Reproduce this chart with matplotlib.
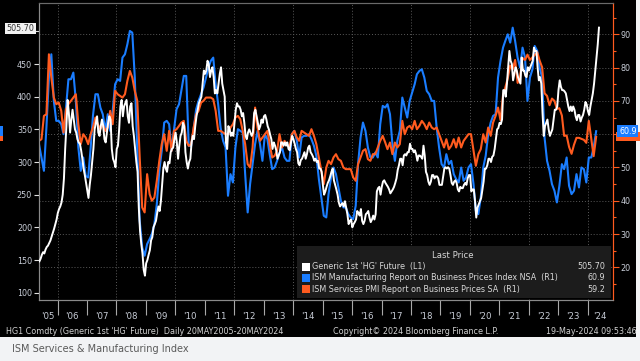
import matplotlib
matplotlib.use('Agg')
import matplotlib.pyplot as plt
import matplotlib.dates as mdates
from matplotlib.patches import Rectangle
from matplotlib.ticker import FixedLocator, FixedFormatter, MultipleLocator
import pandas as pd
import numpy as np

# ---------------- data ----------------
copper_start = '2005-05-20'
copper_end = '2024-05-20'
c2005 = [148, 152, 158, 162, 160, 166, 170, 172, 176, 180, 186, 192, 198, 205, 212]
c2006 = [222, 228, 232, 238, 250, 275, 320, 355, 395, 375, 345, 365, 380, 365, 350, 345, 335, 330, 328, 318, 305, 290, 280, 268]
c2007 = [255, 245, 265, 280, 300, 320, 350, 360, 370, 345, 340, 355, 365, 355, 335, 330, 345, 360, 370, 365, 320, 305, 300, 292]
c2008 = [320, 325, 350, 385, 395, 370, 385, 390, 395, 370, 360, 385, 390, 355, 340, 320, 300, 285, 230, 195, 175, 160, 135, 126]
c2009 = [145, 150, 158, 165, 180, 185, 200, 205, 210, 222, 232, 225, 240, 265, 290, 300, 290, 285, 300, 298, 315, 320, 322, 335]
c2010 = [345, 330, 305, 325, 340, 345, 360, 355, 315, 300, 290, 300, 305, 330, 340, 335, 355, 370, 380, 390, 395, 400, 420, 440]
c2011 = [435, 440, 455, 450, 430, 440, 445, 430, 405, 410, 405, 420, 435, 445, 420, 410, 400, 330, 320, 355, 350, 340, 345, 340]
c2012 = [360, 380, 390, 385, 385, 380, 370, 375, 360, 340, 335, 345, 350, 345, 340, 345, 375, 380, 370, 360, 350, 355, 365, 360]
c2013 = [370, 372, 365, 355, 350, 342, 335, 320, 330, 325, 318, 305, 310, 315, 330, 330, 325, 330, 325, 330, 320, 318, 330, 340]
c2014 = [335, 328, 320, 315, 298, 295, 303, 305, 310, 315, 305, 312, 322, 325, 315, 312, 308, 302, 305, 300, 302, 290, 290, 285]
c2015 = [265, 250, 255, 262, 268, 272, 278, 285, 290, 272, 265, 258, 250, 238, 232, 235, 237, 232, 240, 230, 220, 205, 210, 212]
c2016 = [200, 205, 208, 212, 225, 222, 218, 228, 210, 205, 210, 220, 222, 225, 215, 208, 212, 218, 212, 220, 255, 260, 262, 250]
c2017 = [262, 270, 272, 268, 265, 262, 258, 252, 255, 258, 262, 268, 275, 288, 295, 305, 305, 295, 310, 312, 310, 315, 315, 328]
c2018 = [320, 320, 315, 318, 312, 302, 310, 310, 308, 305, 325, 310, 285, 280, 270, 265, 270, 280, 280, 275, 278, 278, 275, 265]
c2019 = [265, 265, 278, 290, 292, 290, 292, 290, 280, 268, 265, 270, 272, 268, 258, 255, 262, 260, 260, 265, 268, 265, 275, 280]
c2020 = [280, 255, 258, 258, 240, 215, 230, 235, 240, 245, 258, 270, 290, 290, 295, 305, 305, 300, 308, 310, 320, 335, 350, 352]
c2021 = [360, 358, 365, 410, 410, 400, 420, 445, 470, 455, 450, 425, 435, 445, 440, 430, 425, 420, 460, 440, 440, 432, 430, 445]
c2022 = [440, 445, 450, 455, 475, 470, 470, 445, 425, 430, 420, 375, 340, 355, 360, 365, 350, 340, 345, 350, 365, 380, 380, 385]
c2023 = [410, 425, 415, 410, 410, 408, 405, 395, 385, 378, 385, 378, 385, 380, 370, 364, 372, 372, 362, 368, 372, 380, 392, 388]
c2024 = [378, 372, 385, 395, 405, 420, 440, 460, 480, 505.7]

ism_start = '2005-05'
ism_end = '2024-04'
mfg_prices = [
    57, 53, 49, 62, 77, 84, 70, 64,
    64, 63, 60, 68, 76.5, 76.5, 78.5, 70, 56, 49, 53, 47.5,
    47, 56, 65.5, 72, 72, 68, 66, 61, 66, 61, 67, 75,
    76.5, 76, 83, 84, 87, 91, 90.5, 77, 55, 34, 26, 23.5,
    27, 28.5, 30, 33, 39, 49, 55, 63.5, 64, 63, 55, 61.5,
    67.5, 69, 73, 77.5, 77.5, 56.5, 56.5, 61.5, 67.5, 70, 72, 74,
    77, 80, 82, 83, 75, 69, 62, 58, 56, 41.5, 48, 45.5,
    56, 61.5, 61, 60.5, 48, 36.5, 45, 51, 57, 61, 57, 52,
    60, 58.5, 54, 49.5, 50, 52, 54.5, 56, 53, 52, 52, 60,
    61, 58, 53, 59, 59.5, 59.5, 60, 58.5, 56.5, 53.5, 46.5, 41,
    35.5, 35, 42, 47, 50, 48, 44, 40, 38, 38, 36, 35,
    34.5, 38.5, 51, 59, 63.5, 61, 56, 53, 53, 54.5, 53, 63,
    68.5, 68, 69, 66, 57, 52, 58, 61, 71, 68, 65, 70,
    72.5, 75, 78, 79, 79.5, 77, 73, 72, 70, 70, 62, 56,
    51, 50, 54, 51, 52, 48, 46.5, 45.5, 50, 46, 47, 50,
    51, 45, 37, 36, 41, 50, 53.5, 60, 63.5, 65.5, 66, 77,
    82, 86, 88, 90, 87.5, 92, 88, 83, 80, 86, 83, 70,
    77, 79.5, 86.5, 85, 80, 77, 59, 52, 49, 45, 43, 39.5,
    44.5, 51, 49.5, 53, 44.5, 42, 43, 48, 44, 50, 49.5, 45.5,
    53, 53, 56, 60.9]
svc_prices = [
    58, 58.5, 65.5, 66, 84, 77, 71, 69,
    69.5, 67, 60.5, 67.5, 69, 70, 71, 72, 63, 57, 60, 59,
    57, 60, 62, 65, 63, 61.5, 63, 61, 62, 67, 63, 73,
    72, 71.5, 71, 72, 76, 79, 77, 73, 70, 53, 38, 36.5,
    48, 42, 40, 41, 46, 52, 57, 60, 55, 61, 55, 61,
    61.5, 62.5, 63.5, 64, 58, 56.5, 57, 62, 66, 67, 69.5, 70,
    71, 71, 71, 70.5, 67, 61, 61, 60.5, 60, 60, 62, 63,
    65, 65.5, 64.5, 61, 57, 51, 50, 56, 68, 62, 58, 59,
    60, 61, 57, 53, 53.5, 55, 60, 56, 58, 57, 56, 60,
    61, 59, 58, 61, 60.5, 60, 59.5, 61.5, 59.5, 57, 53, 49,
    45, 50, 52, 51, 53, 54, 52.5, 52, 50, 49.5, 49.5, 49.5,
    47, 46, 51, 53, 55, 55.5, 52.5, 52, 54, 54, 56, 58,
    59.5, 57.5, 55.5, 57.5, 54, 57.5, 56, 57, 64, 60, 62, 62.5,
    61.5, 64, 61.5, 62.5, 64, 63, 61.5, 63.5, 62, 61.5, 62, 60,
    58, 56, 58.5, 55.5, 56.5, 58.5, 56, 59, 56, 58, 59, 60,
    60, 55, 50.5, 54, 55.5, 60, 57.5, 62, 59.5, 63.5, 65.5, 68,
    64.2, 71.8, 74, 76.8, 80.6, 79.5, 82.3, 75.4, 77.5, 82.9, 82.3, 83.9,
    82.3, 83.1, 83.8, 84.6, 82.1, 80.1, 72.3, 71.5, 68.7, 70.7, 70, 67.6,
    67.8, 65.6, 59.5, 59.6, 56.2, 54.1, 56.8, 58.9, 58.9, 58.6, 58.3, 57.4,
    64, 58.6, 53.4, 59.2]

year_labels = ["'05", "'06", "'07", "'08", "'09", "'10", "'11", "'12", "'13", "'14",
               "'15", "'16", "'17", "'18", "'19", "'20", "'21", "'22", "'23", "'24"]
left_ticks = [100, 150, 200, 250, 300, 350, 400, 450, 500]
left_tick_labels = ['100', '150', '200', '250', '300', '350', '400', '450', '']
right_ticks = [20, 30, 40, 50, 60, 70, 80, 90]
right_tick_labels = ['20', '30', '40', '50', '', '70', '80', '90']

legend_names = ["Generic 1st 'HG' Future  (L1)",
                "ISM Manufacturing Report on Business Prices Index NSA  (R1)",
                "ISM Services PMI Report on Business Prices SA  (R1)"]
legend_values = ["505.70", "60.9", "59.2"]

# ---------------- build series ----------------
copper = (c2005 + c2006 + c2007 + c2008 + c2009 + c2010 + c2011 + c2012 + c2013 + c2014 +
          c2015 + c2016 + c2017 + c2018 + c2019 + c2020 + c2021 + c2022 + c2023 + c2024)
copper_dates = pd.date_range(copper_start, copper_end, periods=len(copper))
ism_dates = pd.date_range(ism_start, ism_end, freq='MS') + pd.Timedelta(days=14)

WHITE = '#ffffff'
BLUE = '#1a7dff'
ORANGE = '#ff5b1f'
LABEL = '#c9ced8'
FS = 5.8

W, H = 640, 361
fig = plt.figure(figsize=(6.4, 3.61), dpi=100, facecolor='#f2f3f5')

def fx(x):
    return x / W

def fy(y):
    return 1 - y / H

# black panel
fig.add_artist(Rectangle((0, fy(337)), fx(636), 337 / H, transform=fig.transFigure,
                         facecolor='black', edgecolor='none', zorder=-10))

pos = [fx(39), fy(300), (613 - 39) / W, (300 - 3) / H]
ax = fig.add_axes(pos)          # right axis (ISM)
ax.set_facecolor('black')
ax2 = ax.twinx()                # left axis (copper), drawn on top
ax2.set_facecolor('none')
ax.yaxis.tick_right()
ax.yaxis.set_label_position('right')
ax2.yaxis.tick_left()
ax2.yaxis.set_label_position('left')

xmin = pd.Timestamp('2005-05-15')
xmax = pd.Timestamp('2024-11-10')
ax.set_xlim(xmin, xmax)
ax.set_ylim(10.2, 99.4)
ax2.set_ylim(88.8, 543.4)

# grid
for yv in right_ticks:
    ax.axhline(yv, color='#5a5a5a', lw=0.7, ls=(0, (1, 2)), zorder=0.5)
for yr in range(2006, 2025, 2):
    ax.axvline(pd.Timestamp(f'{yr}-01-01'), color='#5a5a5a', lw=0.7, ls=(0, (1, 2)), zorder=0.5)

ax.plot(ism_dates, mfg_prices, color=BLUE, lw=1.5, zorder=3)
ax.plot(ism_dates, svc_prices, color=ORANGE, lw=1.5, zorder=4)
ax2.plot(copper_dates, copper, color=WHITE, lw=1.4, zorder=5)

# spines
for a in (ax, ax2):
    for s in a.spines.values():
        s.set_color('#8a8a8a')
        s.set_linewidth(0.8)
    a.spines['right'].set_color(ORANGE)
    a.spines['top'].set_color('#6a6a6a')

# right axis ticks
ax.yaxis.set_major_locator(FixedLocator(right_ticks))
ax.yaxis.set_major_formatter(FixedFormatter(right_tick_labels))
ax.yaxis.set_minor_locator(MultipleLocator(5))
ax.tick_params(axis='y', which='major', colors=ORANGE, labelcolor=LABEL, length=4, width=0.8,
               pad=1.2, labelsize=FS, direction='out', left=False, labelleft=False,
               right=True, labelright=True)
ax.tick_params(axis='y', which='minor', colors=ORANGE, length=2.5, width=0.8, direction='out',
               left=False, right=True)

# left axis ticks
ax2.yaxis.set_major_locator(FixedLocator(left_ticks))
ax2.yaxis.set_major_formatter(FixedFormatter(left_tick_labels))
ax2.tick_params(axis='y', which='major', colors='#e0e0e0', labelcolor=LABEL, length=3.5, width=0.8,
                pad=1.5, labelsize=FS, direction='out', left=True, labelleft=True,
                right=False, labelright=False)

# x ticks
years = [pd.Timestamp(f'{y}-01-01') for y in range(2006, 2025)]
ax.xaxis.set_major_locator(FixedLocator(mdates.date2num(years)))
ax.xaxis.set_major_formatter(FixedFormatter([''] * len(years)))
lab_pos = [mdates.date2num(xmin) / 2 + mdates.date2num(pd.Timestamp('2006-01-01')) / 2]
lab_pos += [mdates.date2num(pd.Timestamp(f'{y}-07-01')) for y in range(2006, 2024)]
lab_pos += [mdates.date2num(pd.Timestamp('2024-01-01')) / 2 + mdates.date2num(xmax) / 2]
ax.xaxis.set_minor_locator(FixedLocator(lab_pos))
ax.xaxis.set_minor_formatter(FixedFormatter(year_labels))
ax.tick_params(axis='x', which='major', colors='#a8a8a8', length=11, width=0.8, direction='out')
ax.tick_params(axis='x', which='minor', length=0, pad=8.5, labelsize=FS + 0.4, labelcolor=LABEL)
ax2.tick_params(axis='x', which='both', length=0, labelbottom=False)

# last-value boxes
fig.text(fx(20.5), fy(28.5), '505.70', ha='center', va='center', fontsize=FS, color='#333333',
         bbox=dict(boxstyle='square,pad=0.18', facecolor='#f2f2f2', edgecolor='none'))
# orange last-value tag mostly hidden behind the blue one
fig.add_artist(Rectangle((fx(616), fy(141.5)), 24 / W, 9 / H, transform=fig.transFigure,
                         facecolor=ORANGE, edgecolor='none'))
fig.text(fx(619), fy(131.1), '60.9', ha='left', va='center', fontsize=FS, color='white',
         bbox=dict(boxstyle='square,pad=0.2', facecolor=BLUE, edgecolor='none'))
fig.add_artist(Rectangle((0, fy(136)), fx(3), 10 / H, transform=fig.transFigure,
                         facecolor=BLUE, edgecolor='none'))
fig.add_artist(Rectangle((0, fy(141)), fx(3), 5 / H, transform=fig.transFigure,
                         facecolor=ORANGE, edgecolor='none'))

# legend panel
fig.add_artist(Rectangle((fx(297), fy(298)), (611 - 297) / W, (298 - 246) / H,
                         transform=fig.transFigure, facecolor='#1c1c1c', edgecolor='none', zorder=6))
fig.text(fx(453), fy(255.5), 'Last Price', ha='center', va='center', fontsize=FS + 0.3,
         color='#d8d8d8', zorder=7)
row_y = [266.5, 277.7, 289]
for name, val, col, yy in zip(legend_names, legend_values, [WHITE, BLUE, ORANGE], row_y):
    fig.add_artist(Rectangle((fx(302), fy(yy + 4)), 8 / W, 8 / H, transform=fig.transFigure,
                             facecolor=col, edgecolor='none', zorder=7))
    fig.text(fx(312.5), fy(yy), name, ha='left', va='center', fontsize=FS, color='#d8d8d8', zorder=7)
    fig.text(fx(605.5), fy(yy), val, ha='right', va='center', fontsize=FS, color='#d8d8d8', zorder=7)

# footer texts
fig.text(fx(6), fy(331.7), "HG1 Comdty (Generic 1st 'HG' Future)  Daily 20MAY2005-20MAY2024",
         ha='left', va='center', fontsize=FS, color='#d0d0d0')
fig.text(fx(333), fy(331.7), "Copyright\u00a9 2024 Bloomberg Finance L.P.",
         ha='left', va='center', fontsize=FS, color='#d0d0d0')
fig.text(fx(637), fy(331.7), "19-May-2024 09:53:46",
         ha='right', va='center', fontsize=FS, color='#d0d0d0')
fig.text(fx(12), fy(349), "ISM Services & Manufacturing Index",
         ha='left', va='center', fontsize=7, color='#5a5a5a')

fig.savefig('out.png', dpi=100, facecolor=fig.get_facecolor())
